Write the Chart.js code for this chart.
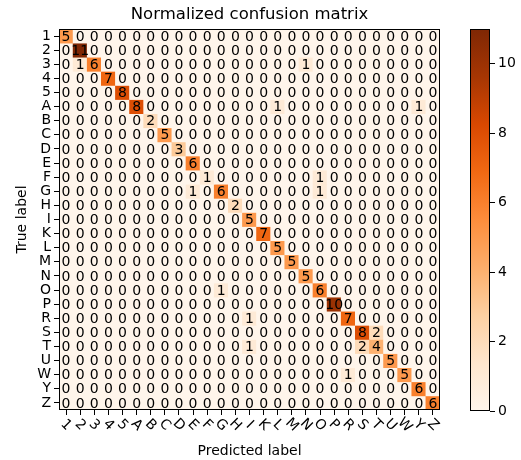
<!DOCTYPE html>
<html>
<head>
<meta charset="utf-8">
<script src="https://cdn.jsdelivr.net/npm/chart.js@4.4.0/dist/chart.umd.min.js"></script>
<style>
    html, body { margin: 0; padding: 0; background: #ffffff; }
    #wrap { position: relative; width: 521px; height: 460px; }
    #matrixChart { position: absolute; left: 0; top: 0; }
    #colorbarChart { position: absolute; left: 460px; top: 0; }
</style>
</head>
<body>
<div id="wrap">
    <canvas id="matrixChart" width="460" height="460"></canvas>
    <canvas id="colorbarChart" width="61" height="460"></canvas>
</div>
<script>
// Class labels (rows = true label, columns = predicted label)
const classLabels = ['1', '2', '3', '4', '5', 'A', 'B', 'C', 'D', 'E', 'F', 'G', 'H', 'I',
    'K', 'L', 'M', 'N', 'O', 'P', 'R', 'S', 'T', 'U', 'W', 'Y', 'Z'];

// Confusion matrix counts, one row per true label
const row1 = [5, 0, 0, 0, 0, 0, 0, 0, 0, 0, 0, 0, 0, 0, 0, 0, 0, 0, 0, 0, 0, 0, 0, 0, 0, 0, 0];
const row2 = [0, 11, 0, 0, 0, 0, 0, 0, 0, 0, 0, 0, 0, 0, 0, 0, 0, 0, 0, 0, 0, 0, 0, 0, 0, 0, 0];
const row3 = [0, 1, 6, 0, 0, 0, 0, 0, 0, 0, 0, 0, 0, 0, 0, 0, 0, 1, 0, 0, 0, 0, 0, 0, 0, 0, 0];
const row4 = [0, 0, 0, 7, 0, 0, 0, 0, 0, 0, 0, 0, 0, 0, 0, 0, 0, 0, 0, 0, 0, 0, 0, 0, 0, 0, 0];
const row5 = [0, 0, 0, 0, 8, 0, 0, 0, 0, 0, 0, 0, 0, 0, 0, 0, 0, 0, 0, 0, 0, 0, 0, 0, 0, 0, 0];
const rowA = [0, 0, 0, 0, 0, 8, 0, 0, 0, 0, 0, 0, 0, 0, 0, 1, 0, 0, 0, 0, 0, 0, 0, 0, 0, 1, 0];
const rowB = [0, 0, 0, 0, 0, 0, 2, 0, 0, 0, 0, 0, 0, 0, 0, 0, 0, 0, 0, 0, 0, 0, 0, 0, 0, 0, 0];
const rowC = [0, 0, 0, 0, 0, 0, 0, 5, 0, 0, 0, 0, 0, 0, 0, 0, 0, 0, 0, 0, 0, 0, 0, 0, 0, 0, 0];
const rowD = [0, 0, 0, 0, 0, 0, 0, 0, 3, 0, 0, 0, 0, 0, 0, 0, 0, 0, 0, 0, 0, 0, 0, 0, 0, 0, 0];
const rowE = [0, 0, 0, 0, 0, 0, 0, 0, 0, 6, 0, 0, 0, 0, 0, 0, 0, 0, 0, 0, 0, 0, 0, 0, 0, 0, 0];
const rowF = [0, 0, 0, 0, 0, 0, 0, 0, 0, 0, 1, 0, 0, 0, 0, 0, 0, 0, 1, 0, 0, 0, 0, 0, 0, 0, 0];
const rowG = [0, 0, 0, 0, 0, 0, 0, 0, 0, 1, 0, 6, 0, 0, 0, 0, 0, 0, 1, 0, 0, 0, 0, 0, 0, 0, 0];
const rowH = [0, 0, 0, 0, 0, 0, 0, 0, 0, 0, 0, 0, 2, 0, 0, 0, 0, 0, 0, 0, 0, 0, 0, 0, 0, 0, 0];
const rowI = [0, 0, 0, 0, 0, 0, 0, 0, 0, 0, 0, 0, 0, 5, 0, 0, 0, 0, 0, 0, 0, 0, 0, 0, 0, 0, 0];
const rowK = [0, 0, 0, 0, 0, 0, 0, 0, 0, 0, 0, 0, 0, 0, 7, 0, 0, 0, 0, 0, 0, 0, 0, 0, 0, 0, 0];
const rowL = [0, 0, 0, 0, 0, 0, 0, 0, 0, 0, 0, 0, 0, 0, 0, 5, 0, 0, 0, 0, 0, 0, 0, 0, 0, 0, 0];
const rowM = [0, 0, 0, 0, 0, 0, 0, 0, 0, 0, 0, 0, 0, 0, 0, 0, 5, 0, 0, 0, 0, 0, 0, 0, 0, 0, 0];
const rowN = [0, 0, 0, 0, 0, 0, 0, 0, 0, 0, 0, 0, 0, 0, 0, 0, 0, 5, 0, 0, 0, 0, 0, 0, 0, 0, 0];
const rowO = [0, 0, 0, 0, 0, 0, 0, 0, 0, 0, 0, 1, 0, 0, 0, 0, 0, 0, 6, 0, 0, 0, 0, 0, 0, 0, 0];
const rowP = [0, 0, 0, 0, 0, 0, 0, 0, 0, 0, 0, 0, 0, 0, 0, 0, 0, 0, 0, 10, 0, 0, 0, 0, 0, 0, 0];
const rowR = [0, 0, 0, 0, 0, 0, 0, 0, 0, 0, 0, 0, 0, 1, 0, 0, 0, 0, 0, 0, 7, 0, 0, 0, 0, 0, 0];
const rowS = [0, 0, 0, 0, 0, 0, 0, 0, 0, 0, 0, 0, 0, 0, 0, 0, 0, 0, 0, 0, 0, 8, 2, 0, 0, 0, 0];
const rowT = [0, 0, 0, 0, 0, 0, 0, 0, 0, 0, 0, 0, 0, 1, 0, 0, 0, 0, 0, 0, 0, 2, 4, 0, 0, 0, 0];
const rowU = [0, 0, 0, 0, 0, 0, 0, 0, 0, 0, 0, 0, 0, 0, 0, 0, 0, 0, 0, 0, 0, 0, 0, 5, 0, 0, 0];
const rowW = [0, 0, 0, 0, 0, 0, 0, 0, 0, 0, 0, 0, 0, 0, 0, 0, 0, 0, 0, 0, 1, 0, 0, 0, 5, 0, 0];
const rowY = [0, 0, 0, 0, 0, 0, 0, 0, 0, 0, 0, 0, 0, 0, 0, 0, 0, 0, 0, 0, 0, 0, 0, 0, 0, 6, 0];
const rowZ = [0, 0, 0, 0, 0, 0, 0, 0, 0, 0, 0, 0, 0, 0, 0, 0, 0, 0, 0, 0, 0, 0, 0, 0, 0, 0, 6];

const counts = [row1, row2, row3, row4, row5, rowA, rowB, rowC, rowD, rowE, rowF, rowG, rowH, rowI,
    rowK, rowL, rowM, rowN, rowO, rowP, rowR, rowS, rowT, rowU, rowW, rowY, rowZ];

// Colorbar ticks
const colorbarTicks = [0, 2, 4, 6, 8, 10];

const FONT = 'DejaVu Sans';
const maxCount = Math.max(...counts.map(r => Math.max(...r)));

// matplotlib "Oranges" colormap stops
const orangeStops = ['#fff5eb', '#fee6ce', '#fdd0a2', '#fdae6b', '#fd8d3c', '#f16913', '#d94801', '#a63603', '#7f2704'];

function hexToRgb(hex) {
    return [parseInt(hex.slice(1, 3), 16), parseInt(hex.slice(3, 5), 16), parseInt(hex.slice(5, 7), 16)];
}

function orangeAt(t) {
    t = Math.min(1, Math.max(0, t));
    const pos = t * (orangeStops.length - 1);
    const i = Math.min(orangeStops.length - 2, Math.floor(pos));
    const f = pos - i;
    const a = hexToRgb(orangeStops[i]);
    const b = hexToRgb(orangeStops[i + 1]);
    const c = a.map((v, k) => Math.round(v + (b[k] - v) * f));
    return 'rgb(' + c.join(',') + ')';
}

function drawFrame(chart) {
    const ctx = chart.ctx;
    const a = chart.chartArea;
    ctx.save();
    ctx.strokeStyle = '#000000';
    ctx.lineWidth = 1;
    ctx.strokeRect(Math.round(a.left) + 0.5, Math.round(a.top) + 0.5,
        Math.round(a.width) - 1, Math.round(a.height) - 1);
    ctx.restore();
}

// Cell numbers, frame and rotated x labels for the matrix
const cellTextPlugin = {
    id: 'cellText',
    afterDatasetsDraw(chart) {
        const ctx = chart.ctx;
        ctx.save();
        ctx.font = '14px "' + FONT + '"';
        ctx.textAlign = 'center';
        ctx.textBaseline = 'middle';
        ctx.fillStyle = '#000000';
        chart.data.datasets.forEach((ds, r) => {
            chart.getDatasetMeta(r).data.forEach((bar, c) => {
                ctx.fillText(String(counts[r][c]), bar.x, (bar.y + bar.base) / 2 + 1);
            });
        });
        ctx.restore();
        drawFrame(chart);
    },
    afterDraw(chart) {
        const ctx = chart.ctx;
        const xScale = chart.scales.x;
        ctx.save();
        ctx.font = '14px "' + FONT + '"';
        ctx.textAlign = 'center';
        ctx.textBaseline = 'middle';
        ctx.fillStyle = '#000000';
        classLabels.forEach((lab, i) => {
            const x = xScale.getPixelForValue(i);
            ctx.save();
            ctx.translate(x, chart.chartArea.bottom + 15);
            ctx.rotate(Math.PI / 4);
            ctx.fillText(lab, 0, 0);
            ctx.restore();
        });
        ctx.restore();
    }
};

const frameOnly = {
    id: 'frameOnly',
    afterDatasetsDraw(chart) {
        drawFrame(chart);
    }
};

function initializeMatrix() {
    const datasets = counts.map((row, r) => ({
        label: classLabels[r],
        data: row.map(() => [r, r + 1]),
        backgroundColor: row.map(v => orangeAt(v / maxCount)),
        borderWidth: 0,
        grouped: false,
        barPercentage: 1,
        categoryPercentage: 1
    }));

    new Chart(document.getElementById('matrixChart'), {
        type: 'bar',
        data: { labels: classLabels, datasets: datasets },
        options: {
            responsive: false,
            animation: false,
            layout: { padding: { top: 0, left: 0, right: 20, bottom: 0 } },
            plugins: {
                legend: { display: false },
                tooltip: { enabled: false },
                title: {
                    display: true,
                    text: 'Normalized confusion matrix',
                    fullSize: false,
                    color: '#000000',
                    font: { family: FONT, size: 16.5, weight: 'normal', lineHeight: 1.2 },
                    padding: { top: 5, bottom: 4.2 }
                }
            },
            scales: {
                x: {
                    type: 'category',
                    offset: true,
                    border: { display: false },
                    grid: { offset: false, drawOnChartArea: false, drawTicks: true, tickLength: 5, color: '#000000' },
                    ticks: { display: false, autoSkip: false },
                    title: {
                        display: true,
                        text: 'Predicted label',
                        color: '#000000',
                        font: { family: FONT, size: 14, lineHeight: 1.2 },
                        padding: { top: 0, bottom: 0 }
                    },
                    afterFit(scale) { scale.height = 50; }
                },
                y: {
                    type: 'linear',
                    min: 0,
                    max: classLabels.length,
                    reverse: true,
                    border: { display: false },
                    grid: { drawOnChartArea: false, drawTicks: true, tickLength: 5, color: '#000000' },
                    afterBuildTicks(scale) {
                        scale.ticks = classLabels.map((l, i) => ({ value: i + 0.5 }));
                    },
                    ticks: {
                        autoSkip: false,
                        padding: 3,
                        color: '#000000',
                        font: { family: FONT, size: 14 },
                        callback: (value, index) => classLabels[index]
                    },
                    title: {
                        display: true,
                        text: 'True label',
                        color: '#000000',
                        font: { family: FONT, size: 14, lineHeight: 1.2 },
                        padding: { top: 13.6, bottom: 0 }
                    },
                    afterFit(scale) { scale.width = 59; }
                }
            }
        },
        plugins: [cellTextPlugin]
    });
}

function initializeColorbar() {
    new Chart(document.getElementById('colorbarChart'), {
        type: 'bar',
        data: {
            labels: ['cb'],
            datasets: [{
                data: [[0, maxCount]],
                borderWidth: 0,
                barPercentage: 1,
                categoryPercentage: 1,
                backgroundColor(context) {
                    const chart = context.chart;
                    const area = chart.chartArea;
                    if (!area) return orangeAt(0.5);
                    const yScale = chart.scales.y;
                    const g = chart.ctx.createLinearGradient(0, yScale.getPixelForValue(0), 0, yScale.getPixelForValue(maxCount));
                    orangeStops.forEach((c, i) => g.addColorStop(i / (orangeStops.length - 1), c));
                    return g;
                }
            }]
        },
        options: {
            responsive: false,
            animation: false,
            layout: { padding: { top: 29, left: 10, right: 0, bottom: 49 } },
            plugins: { legend: { display: false }, tooltip: { enabled: false } },
            scales: {
                x: { display: false },
                y: {
                    position: 'right',
                    min: 0,
                    max: maxCount,
                    border: { display: false },
                    grid: { drawOnChartArea: false, drawTicks: true, tickLength: 5, color: '#000000' },
                    afterBuildTicks(scale) {
                        scale.ticks = colorbarTicks.map(v => ({ value: v }));
                    },
                    ticks: {
                        padding: 3,
                        color: '#000000',
                        font: { family: FONT, size: 14 }
                    },
                    afterFit(scale) { scale.width = 31; }
                }
            }
        },
        plugins: [frameOnly]
    });
}

document.addEventListener('DOMContentLoaded', function() {
    initializeMatrix();
    initializeColorbar();
});
</script>
</body>
</html>
